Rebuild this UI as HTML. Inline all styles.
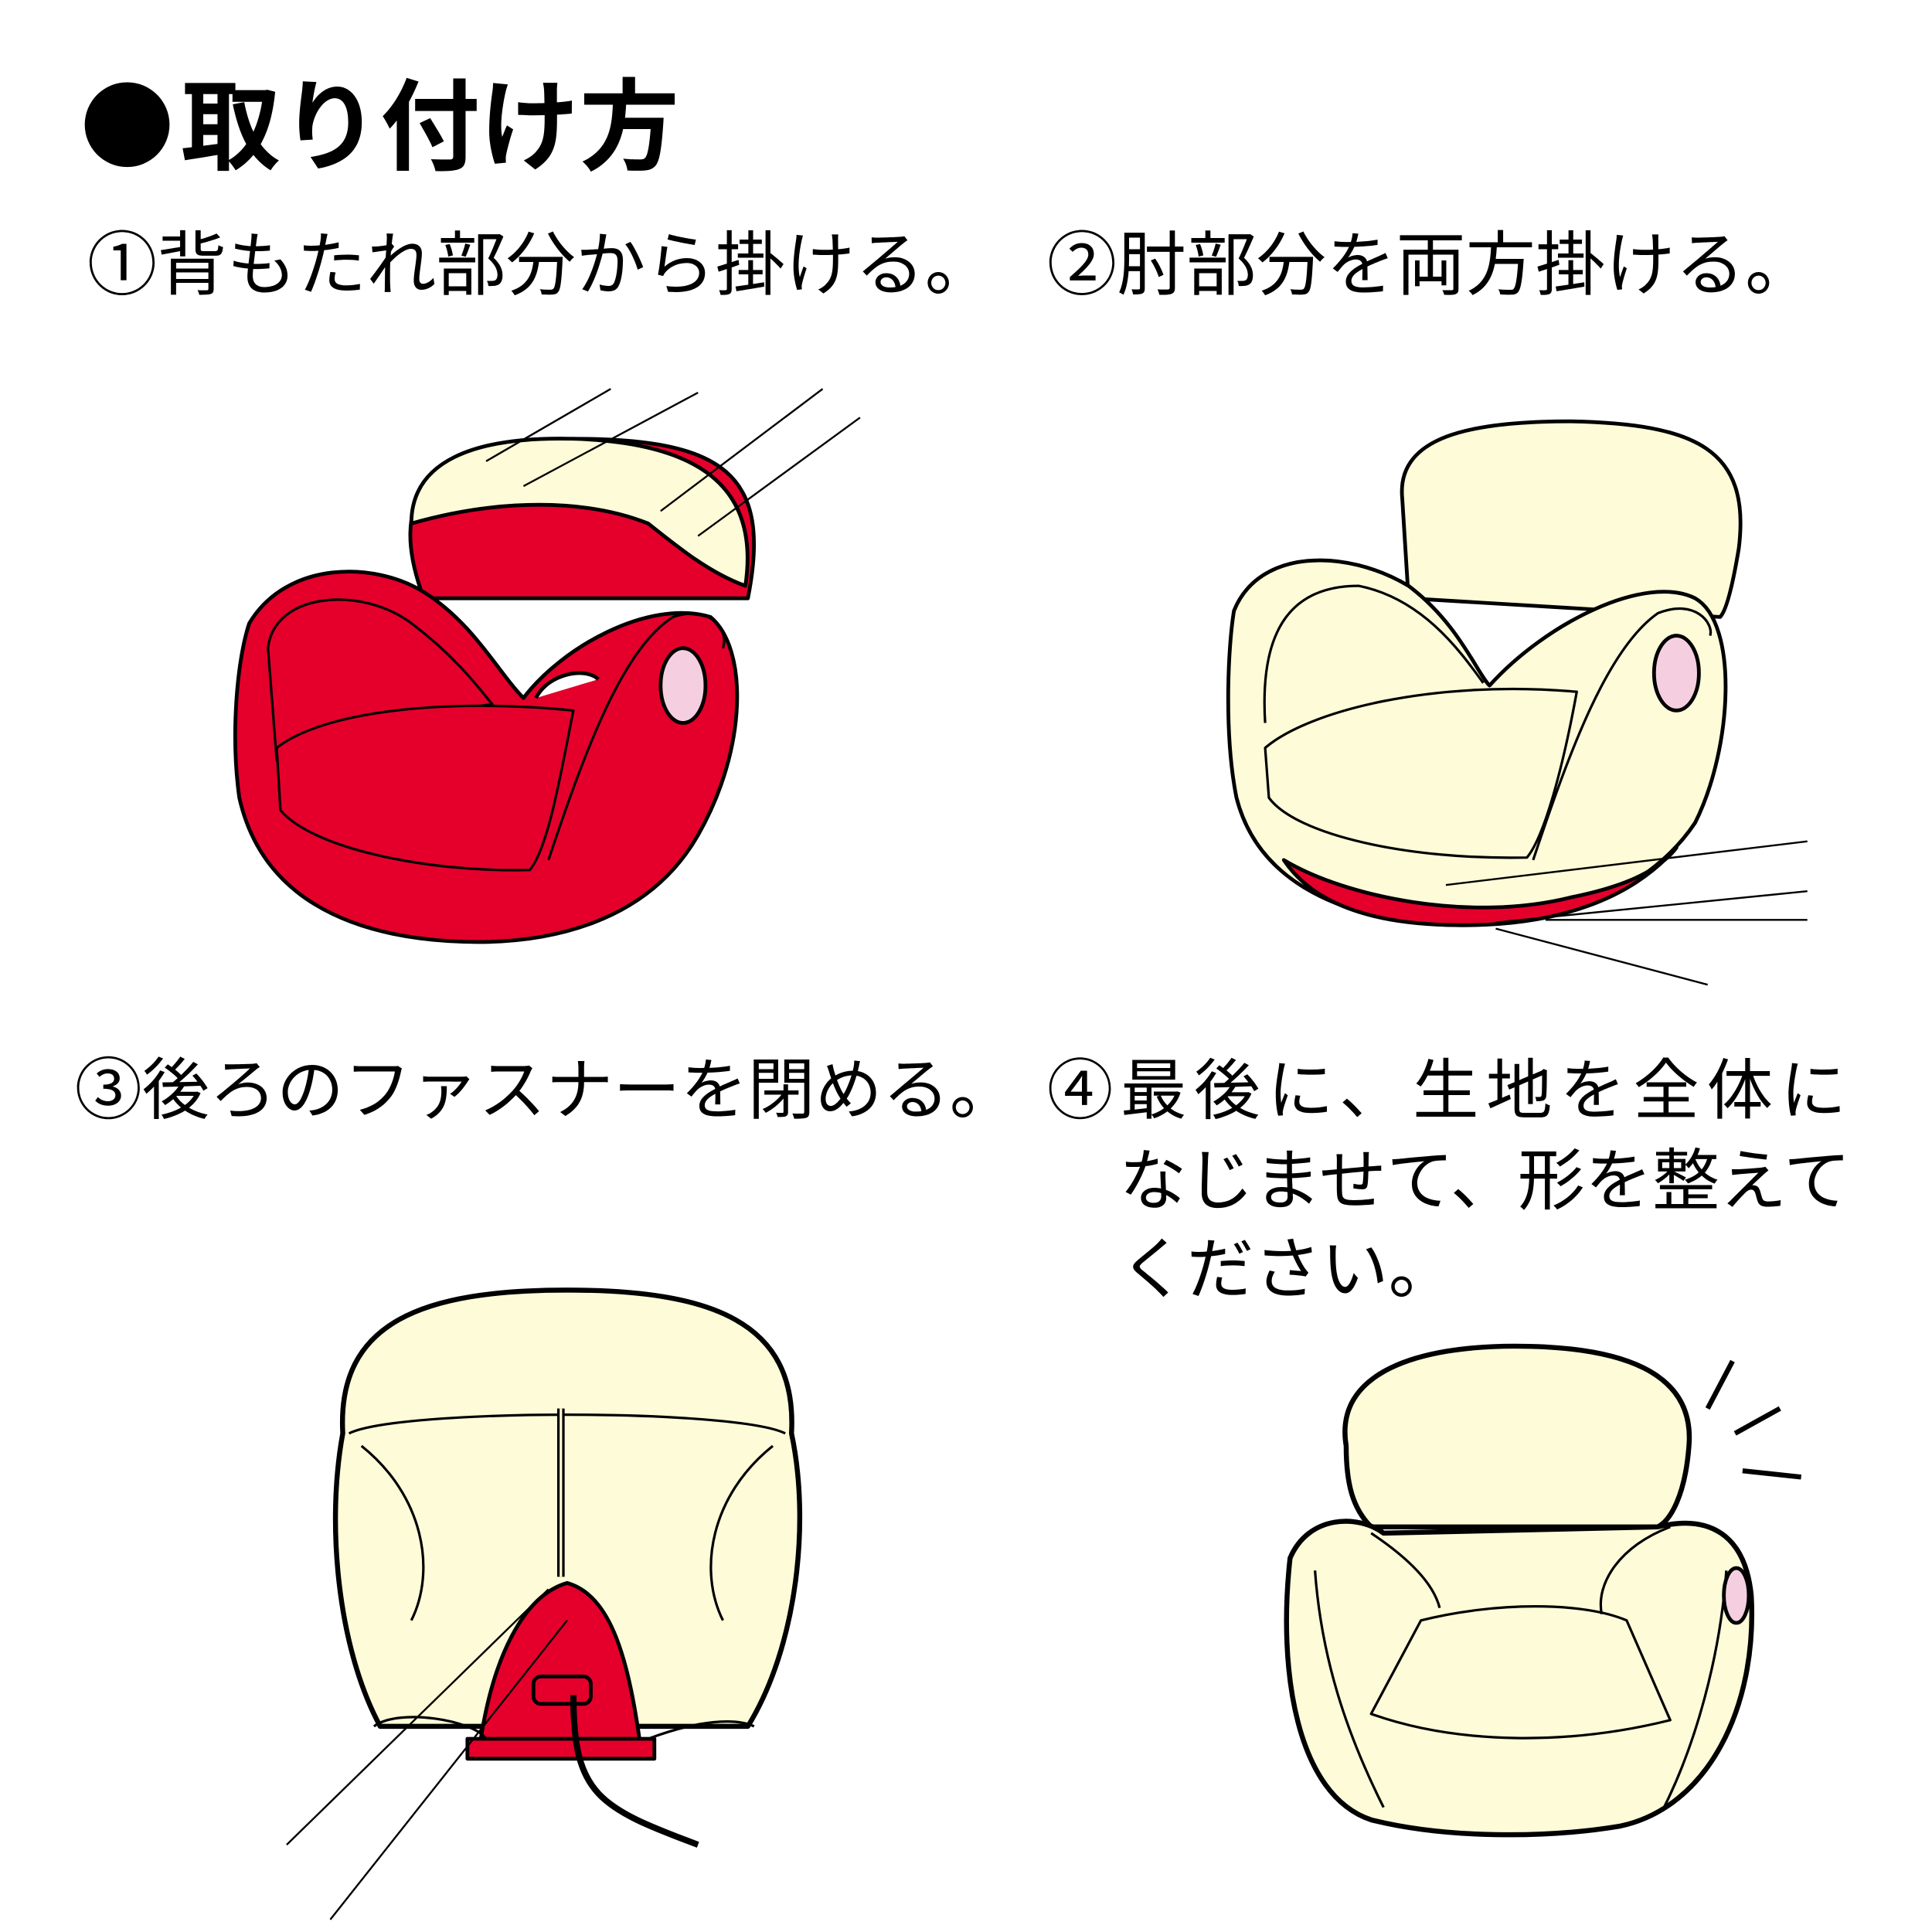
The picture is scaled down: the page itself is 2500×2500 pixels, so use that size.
<!DOCTYPE html>
<html><head><meta charset="utf-8"><style>
html,body{margin:0;padding:0;background:#fff}
svg{display:block}
text{font-family:"Liberation Sans","Noto Sans CJK JP",sans-serif;fill:#000}
</style></head><body>
<svg width="2500" height="2500" viewBox="0 0 1550 1550" xmlns="http://www.w3.org/2000/svg">
<circle cx="102" cy="100" r="34" fill="#000"/>
<text x="145" y="130" font-size="80" font-weight="bold">取り付け方</text>
<text x="70" y="232" font-size="56">①背もたれ部分から掛ける。</text>
<text x="840" y="232" font-size="56">②肘部分を両方掛ける。</text>
<text x="60" y="893" font-size="54">③後ろのファスナーを閉める。</text>
<text x="840" y="893" font-size="53" letter-spacing="6">④最後に、生地を全体に</text>
<text x="898" y="966" font-size="54">なじませて、形を整えて</text>
<text x="898" y="1037" font-size="54">ください。</text>

<g stroke="#000" stroke-width="3" stroke-linejoin="round">
<!-- Chair 1 -->
<path d="M340,480 C310,400 340,355 460,352 C580,352 620,380 600,480 Z" fill="#e4002b"/>
<path d="M330,420 C330,370 380,350 460,352 C560,355 610,390 598,470 C570,460 545,440 520,420 C470,400 400,400 330,420 Z" fill="#fdfbd8"/>
<path d="M200,500 C230,450 300,450 340,475 C380,500 400,540 420,560 C450,520 520,480 570,495 C600,520 600,600 560,670 C520,740 440,760 360,755 C280,750 210,720 192,640 C185,590 190,530 200,500 Z" fill="#e4002b"/>
<path d="M215,520 C220,475 290,470 330,500 C370,530 390,560 395,565 C320,575 250,590 222,610 Z" fill="#e4002b" stroke-width="2"/>
<path d="M222,600 C260,570 360,560 460,570 C450,620 440,680 425,698 C340,700 250,680 225,650 Z" fill="#e4002b" stroke-width="2"/>
<path d="M440,690 C470,600 500,520 540,495 C570,485 585,505 580,520" fill="none" stroke-width="2"/>
<path d="M430,560 C440,540 470,535 480,545" fill="#fff"/>
<ellipse cx="548" cy="550" rx="18" ry="30" fill="#f5cfe0"/>
<path d="M390,370 L490,312 M420,390 L560,315 M530,410 L660,312 M560,430 L690,335" fill="none" stroke-width="1.5"/>
<!-- Chair 2 -->
<path d="M1125,400 C1120,350 1180,338 1260,338 C1360,340 1405,360 1395,440 C1390,470 1385,490 1380,495 L1130,480 Z" fill="#fdfbd8"/>
<path d="M990,490 C1010,440 1080,440 1130,470 C1170,500 1185,540 1195,550 C1240,500 1320,460 1360,480 C1395,500 1390,600 1360,660 C1320,720 1240,745 1160,742 C1080,738 1010,710 992,640 C982,590 985,520 990,490 Z" fill="#fdfbd8"/>
<path d="M1030,690 C1080,720 1180,740 1260,720 C1300,712 1330,700 1345,680 C1310,720 1250,745 1160,742 C1090,740 1050,720 1030,690 Z" fill="#e4002b"/>
<path d="M1015,600 C1050,570 1150,545 1265,555 C1255,610 1240,670 1225,688 C1130,690 1040,670 1018,640 Z" fill="#fdfbd8" stroke-width="2"/>
<path d="M1015,580 C1010,500 1040,470 1090,470 C1140,480 1170,520 1190,548" fill="none" stroke-width="2"/>
<path d="M1230,690 C1260,600 1290,520 1330,492 C1360,480 1375,500 1372,510" fill="none" stroke-width="2"/>
<ellipse cx="1345" cy="540" rx="18" ry="30" fill="#f5cfe0"/>
<path d="M1160,710 L1450,675 M1200,740 L1450,715 M1240,738 L1450,738 M1200,745 L1370,790" fill="none" stroke-width="1.5"/>
<!-- Chair 3 -->
<path d="M275,1150 C270,1060 340,1035 455,1035 C570,1035 640,1060 635,1150 C650,1220 640,1320 600,1385 L305,1385 C270,1320 262,1220 275,1150 Z" fill="#fdfbd8" stroke-width="4"/>
<path d="M280,1150 C320,1130 590,1130 630,1150" fill="none" stroke-width="2"/>
<path d="M290,1160 C340,1200 350,1260 330,1300 M620,1160 C570,1200 560,1260 580,1300" fill="none" stroke-width="2"/>
<path d="M385,1400 C395,1330 420,1280 455,1270 C490,1280 505,1330 515,1410 Z" fill="#e4002b"/>
<rect x="375" y="1395" width="150" height="16" fill="#e4002b"/>
<rect x="428" y="1345" width="46" height="22" rx="6" fill="#e4002b"/>
<path d="M450,1130 L450,1265" stroke="#000" stroke-width="6"/>
<path d="M450,1130 L450,1265" stroke="#fdfbd8" stroke-width="2"/>
<path d="M460,1360 C460,1440 480,1450 560,1480" fill="none" stroke-width="5"/>
<path d="M300,1385 C320,1370 380,1380 390,1395 M520,1395 C560,1380 590,1378 605,1385" fill="none" stroke-width="2"/>
<path d="M440,1275 L230,1480 M455,1300 L265,1540" fill="none" stroke-width="1.5"/>
<!-- Chair 4 -->
<path d="M1080,1160 C1070,1100 1140,1080 1215,1080 C1300,1080 1360,1100 1355,1160 C1352,1200 1340,1220 1330,1225 L1100,1225 C1085,1210 1080,1190 1080,1160 Z" fill="#fdfbd8" stroke-width="4"/>
<path d="M1035,1250 C1050,1215 1090,1215 1110,1230 L1330,1225 C1370,1215 1400,1230 1405,1280 C1410,1370 1370,1450 1300,1465 C1240,1475 1160,1475 1100,1460 C1040,1440 1025,1340 1035,1250 Z" fill="#fdfbd8" stroke-width="4"/>
<path d="M1100,1375 L1140,1300 C1200,1285 1270,1285 1305,1300 L1340,1380 C1260,1400 1170,1400 1100,1375 Z" fill="#fdfbd8" stroke-width="2"/>
<path d="M1055,1260 C1060,1330 1080,1390 1110,1450 M1385,1260 C1380,1330 1360,1400 1335,1450 M1100,1230 C1130,1250 1150,1270 1155,1290 M1340,1225 C1300,1240 1280,1270 1285,1295" fill="none" stroke-width="2"/>
<ellipse cx="1393" cy="1280" rx="10" ry="22" fill="#f5cfe0"/>
<path d="M1370,1130 L1390,1092 M1392,1150 L1428,1130 M1398,1180 L1445,1185" fill="none" stroke-width="4"/>
</g>
</svg>
</body></html>
